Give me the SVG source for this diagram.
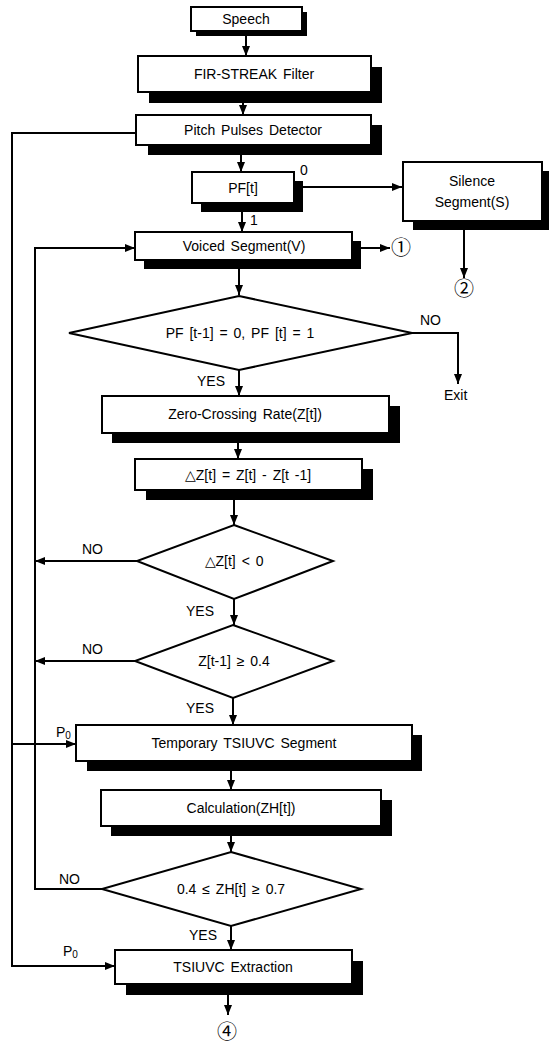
<svg xmlns="http://www.w3.org/2000/svg" width="549" height="1043" viewBox="0 0 549 1043">
<style>
.box{fill:#fff;stroke:#000;stroke-width:2}
.sh{fill:#000}
.dia{fill:#fff;stroke:#000;stroke-width:2}
.t{font-family:"Liberation Sans",Arial,sans-serif;font-size:14px;fill:#000;text-anchor:middle;word-spacing:2px}
.l{font-family:"Liberation Sans",Arial,sans-serif;font-size:14px;fill:#000}
.c{font-family:"Noto Sans CJK JP","DejaVu Sans",sans-serif;font-size:20px;fill:#000;text-anchor:middle}
.ln{fill:none;stroke:#000;stroke-width:2}
</style>
<defs>
<marker id="ah" markerUnits="userSpaceOnUse" markerWidth="11" markerHeight="8" refX="10" refY="4" orient="auto">
<path d="M0,0 L10,4 L0,8 z" fill="#000"/>
</marker>
</defs>
<rect width="549" height="1043" fill="#fff"/>
<g id="connectors">
<line class="ln" x1="246" y1="35" x2="246" y2="56" marker-end="url(#ah)"/>
<line class="ln" x1="243" y1="103" x2="243" y2="115" marker-end="url(#ah)"/>
<line class="ln" x1="241" y1="155" x2="241" y2="172" marker-end="url(#ah)"/>
<line class="ln" x1="303" y1="187" x2="402" y2="187" marker-end="url(#ah)"/>
<line class="ln" x1="242" y1="211" x2="242" y2="232" marker-end="url(#ah)"/>
<line class="ln" x1="361" y1="248" x2="390" y2="248" marker-end="url(#ah)"/>
<line class="ln" x1="464" y1="230" x2="464" y2="278" marker-end="url(#ah)"/>
<line class="ln" x1="239" y1="268" x2="239" y2="295" marker-end="url(#ah)"/>
<polyline class="ln" points="412,333 458,333 458,384" marker-end="url(#ah)"/>
<line class="ln" x1="239" y1="370" x2="239" y2="396" marker-end="url(#ah)"/>
<line class="ln" x1="238" y1="442" x2="238" y2="459" marker-end="url(#ah)"/>
<line class="ln" x1="234" y1="499" x2="234" y2="525" marker-end="url(#ah)"/>
<line class="ln" x1="234" y1="599" x2="234" y2="625" marker-end="url(#ah)"/>
<line class="ln" x1="233" y1="698" x2="233" y2="725" marker-end="url(#ah)"/>
<line class="ln" x1="231" y1="771" x2="231" y2="790" marker-end="url(#ah)"/>
<line class="ln" x1="231" y1="836" x2="231" y2="852" marker-end="url(#ah)"/>
<line class="ln" x1="231" y1="926" x2="231" y2="950" marker-end="url(#ah)"/>
<line class="ln" x1="228" y1="995" x2="228" y2="1015" marker-end="url(#ah)"/>
<line class="ln" x1="137" y1="561" x2="35" y2="561" marker-end="url(#ah)"/>
<line class="ln" x1="135" y1="661" x2="35" y2="661" marker-end="url(#ah)"/>
<polyline class="ln" points="102,889 35,889 35,248 135,248" marker-end="url(#ah)"/>
<polyline class="ln" points="136,133 12,133 12,966 115,966" marker-end="url(#ah)"/>
<line class="ln" x1="12" y1="744" x2="76" y2="744" marker-end="url(#ah)"/>
<text class="l" x="300" y="175">0</text>
<text class="l" x="250" y="225">1</text>
<text class="l" x="420" y="325">NO</text>
<text class="l" x="444" y="400">Exit</text>
<text class="l" x="197" y="386">YES</text>
<text class="l" x="82" y="554">NO</text>
<text class="l" x="186" y="616">YES</text>
<text class="l" x="82" y="654">NO</text>
<text class="l" x="186" y="713">YES</text>
<text class="l" x="56" y="737">P<tspan font-size="10" dy="2">0</tspan></text>
<text class="l" x="59" y="884">NO</text>
<text class="l" x="189" y="940">YES</text>
<text class="l" x="63" y="956">P<tspan font-size="10" dy="2">0</tspan></text>
<text class="c" x="401" y="255">①</text>
<text class="c" x="464" y="296">②</text>
<text class="c" x="227" y="1039">④</text>
</g>
<g id="speech">
<rect class="sh" x="196" y="12" width="111" height="24"/>
<rect class="box" x="191" y="7" width="111" height="24"/>
<text class="t" x="246" y="24">Speech</text>
</g>
<g id="fir">
<rect class="sh" x="149" y="67" width="233" height="36"/>
<rect class="box" x="138" y="56" width="233" height="36"/>
<text class="t" x="254" y="79">FIR-STREAK Filter</text>
</g>
<g id="pitch">
<rect class="sh" x="148" y="125" width="234" height="30"/>
<rect class="box" x="136" y="115" width="235" height="30"/>
<text class="t" x="253" y="135">Pitch Pulses Detector</text>
</g>
<g id="pf">
<rect class="sh" x="201" y="181" width="102" height="31"/>
<rect class="box" x="192" y="172" width="102" height="31"/>
<text class="t" x="243" y="193">PF[t]</text>
</g>
<g id="silence">
<rect class="sh" x="413" y="171" width="140" height="59"/>
<rect class="box" x="403" y="162" width="139" height="59"/>
<text class="t" x="472" y="186">Silence</text>
<text class="t" x="472" y="207">Segment(S)</text>
</g>
<g id="voiced">
<rect class="sh" x="144" y="241" width="217" height="28"/>
<rect class="box" x="135" y="232" width="217" height="28"/>
<text class="t" x="244" y="251">Voiced Segment(V)</text>
</g>
<g id="d1">
<polygon class="dia" points="239,296 412,333 239,370 69,333"/>
<text class="t" x="240" y="338">PF [t-1] = 0,  PF [t] = 1</text>
</g>
<g id="zero">
<rect class="sh" x="112" y="406" width="288" height="37"/>
<rect class="box" x="102" y="396" width="287" height="37"/>
<text class="t" x="245" y="419">Zero-Crossing Rate(Z[t])</text>
</g>
<g id="dz">
<rect class="sh" x="146" y="469" width="227" height="31"/>
<rect class="box" x="135" y="459" width="227" height="31"/>
<text class="t" x="248" y="480">△Z[t] = Z[t] - Z[t -1]</text>
</g>
<g id="d2">
<polygon class="dia" points="234,525 333,561 234,599 137,561"/>
<text class="t" x="234" y="566">△Z[t] &lt; 0</text>
</g>
<g id="d3">
<polygon class="dia" points="233,625 333,661 233,698 135,661"/>
<text class="t" x="234" y="666">Z[t-1] ≥ 0.4</text>
</g>
<g id="temp">
<rect class="sh" x="87" y="735" width="335" height="36"/>
<rect class="box" x="76" y="725" width="336" height="36"/>
<text class="t" x="244" y="748">Temporary TSIUVC Segment</text>
</g>
<g id="calc">
<rect class="sh" x="111" y="800" width="281" height="36"/>
<rect class="box" x="101" y="790" width="280" height="36"/>
<text class="t" x="241" y="813">Calculation(ZH[t])</text>
</g>
<g id="d4">
<polygon class="dia" points="231,852 361,889 231,926 102,889"/>
<text class="t" x="231" y="894">0.4 ≤ ZH[t] ≥ 0.7</text>
</g>
<g id="extract">
<rect class="sh" x="126" y="961" width="237" height="34"/>
<rect class="box" x="115" y="950" width="237" height="34"/>
<text class="t" x="233" y="972">TSIUVC Extraction</text>
</g>
</svg>
